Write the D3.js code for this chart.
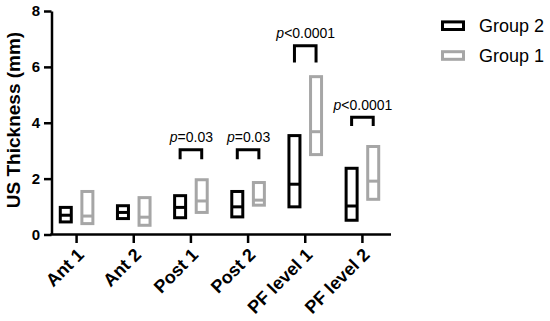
<!DOCTYPE html>
<html>
<head>
<meta charset="utf-8">
<script src="https://cdn.jsdelivr.net/npm/d3@7"></script>
<style>
  html, body { margin: 0; padding: 0; background: #fff; }
  svg { display: block; font-family: Arial, "Liberation Sans", sans-serif; }
</style>
</head>
<body>
<svg id="chart" width="550" height="321"></svg>
<script>
const categories = ["Ant 1", "Ant 2", "Post 1", "Post 2", "PF level 1", "PF level 2"];
const group2Min    = [0.45, 0.57, 0.60, 0.63, 0.99, 0.51];
const group2Median = [0.69, 0.79, 0.97, 0.99, 1.80, 1.02];
const group2Max    = [0.97, 1.03, 1.39, 1.54, 3.54, 2.37];
const group1Min    = [0.39, 0.33, 0.79, 1.05, 2.86, 1.26];
const group1Median = [0.66, 0.62, 1.20, 1.23, 3.68, 1.91];
const group1Max    = [1.54, 1.32, 1.96, 1.86, 5.65, 3.15];
const yTicks = [0, 2, 4, 6, 8];
const sigCategories = ["Post 1", "Post 2", "PF level 1", "PF level 2"];
const sigLabels     = ["=0.03", "=0.03", "<0.0001", "<0.0001"];
const bracketTop    = [3.03, 3.03, 6.76, 4.20];
const bracketBottom = [2.69, 2.69, 6.16, 3.88];
const seriesNames = ["Group 2", "Group 1"];
const seriesColors = ["#000000", "#a6a6a6"];

const svg = d3.select("#chart");
const x = d3.scaleBand().domain(categories).range([48, 391]);
const y = d3.scaleLinear().domain([0, 8]).range([234.5, 11]);
const groupOffset = d3.scaleBand().domain(seriesNames).range([-21.6, 21.6]);
const boxW = 11;
const axisX = 51.5;

// Y axis
const yAxis = svg.append("g")
  .attr("transform", `translate(${axisX},0)`)
  .call(d3.axisLeft(y).tickValues(yTicks).tickSize(7.5).tickSizeOuter(0).tickPadding(4));
yAxis.select(".domain").attr("stroke", "#000").attr("stroke-width", 2.5);
yAxis.selectAll(".tick line").attr("stroke", "#000").attr("stroke-width", 2.5);
yAxis.selectAll(".tick text").attr("font-size", 15).attr("font-weight", "bold").attr("fill", "#000")
  .attr("font-family", "Arial, 'Liberation Sans', sans-serif");

// X axis
const xAxis = svg.append("g")
  .attr("transform", `translate(0,${y(0)})`)
  .call(d3.axisBottom(x).tickSize(8.5).tickSizeOuter(0).tickFormat(""));
xAxis.select(".domain").remove();
xAxis.selectAll(".tick line").attr("stroke", "#000").attr("stroke-width", 2.5);
svg.append("line")
  .attr("x1", axisX - 1.25).attr("x2", 391)
  .attr("y1", y(0)).attr("y2", y(0))
  .attr("stroke", "#000").attr("stroke-width", 2.5);

svg.append("g").selectAll("text").data(categories).join("text")
  .attr("transform", d => `translate(${x(d) + x.bandwidth() / 2 + 4},${y(0) + 17}) rotate(-45)`)
  .attr("text-anchor", "end")
  .attr("dy", "0.35em")
  .attr("font-size", 18).attr("font-weight", "bold").attr("fill", "#000")
  .text(d => d);

// Y title
svg.append("text")
  .attr("transform", `translate(20,120) rotate(-90)`)
  .attr("text-anchor", "middle")
  .attr("font-size", 19).attr("font-weight", "bold").attr("fill", "#000")
  .text("US Thickness (mm)");

// Floating bars
const series = [
  { name: seriesNames[0], color: seriesColors[0], min: group2Min, med: group2Median, max: group2Max },
  { name: seriesNames[1], color: seriesColors[1], min: group1Min, med: group1Median, max: group1Max }
];
const cx = (cat, s) => x(cat) + x.bandwidth() / 2 + groupOffset(s) + groupOffset.bandwidth() / 2;

series.forEach(s => {
  const g = svg.append("g");
  const rows = categories.map((c, i) => ({ c, lo: s.min[i], md: s.med[i], hi: s.max[i] }));
  g.selectAll("rect").data(rows).join("rect")
    .attr("x", d => cx(d.c, s.name) - boxW / 2)
    .attr("width", boxW)
    .attr("y", d => y(d.hi))
    .attr("height", d => y(d.lo) - y(d.hi))
    .attr("fill", "none").attr("stroke", s.color).attr("stroke-width", 3);
  g.selectAll("line").data(rows).join("line")
    .attr("x1", d => cx(d.c, s.name) - boxW / 2)
    .attr("x2", d => cx(d.c, s.name) + boxW / 2)
    .attr("y1", d => y(d.md)).attr("y2", d => y(d.md))
    .attr("stroke", s.color).attr("stroke-width", 3);
});

// Significance brackets
sigCategories.forEach((c, i) => {
  const x1 = cx(c, seriesNames[0]);
  const x2 = cx(c, seriesNames[1]);
  svg.append("path")
    .attr("d", `M${x1},${y(bracketBottom[i])}V${y(bracketTop[i])}H${x2}V${y(bracketBottom[i])}`)
    .attr("fill", "none").attr("stroke", "#000").attr("stroke-width", 3)
    .attr("stroke-linejoin", "miter").attr("stroke-linecap", "butt");
  const t = svg.append("text")
    .attr("x", x(c) + x.bandwidth() / 2 + 0.5)
    .attr("y", y(bracketTop[i]) - 7.5)
    .attr("text-anchor", "middle")
    .attr("font-size", 14).attr("fill", "#000");
  t.append("tspan").attr("font-style", "italic").text("p");
  t.append("tspan").text(sigLabels[i]);
});

// Legend
const legend = svg.append("g");
const legendY = [25.7, 55.5];
series.forEach((s, i) => {
  legend.append("rect")
    .attr("x", 442.5).attr("y", legendY[i] - 3.8)
    .attr("width", 21).attr("height", 7.6)
    .attr("fill", "none").attr("stroke", s.color).attr("stroke-width", 3);
  legend.append("text")
    .attr("x", 479).attr("y", legendY[i] + 6.3)
    .attr("font-size", 18).attr("fill", "#000")
    .text(s.name);
});
</script>
</body>
</html>
